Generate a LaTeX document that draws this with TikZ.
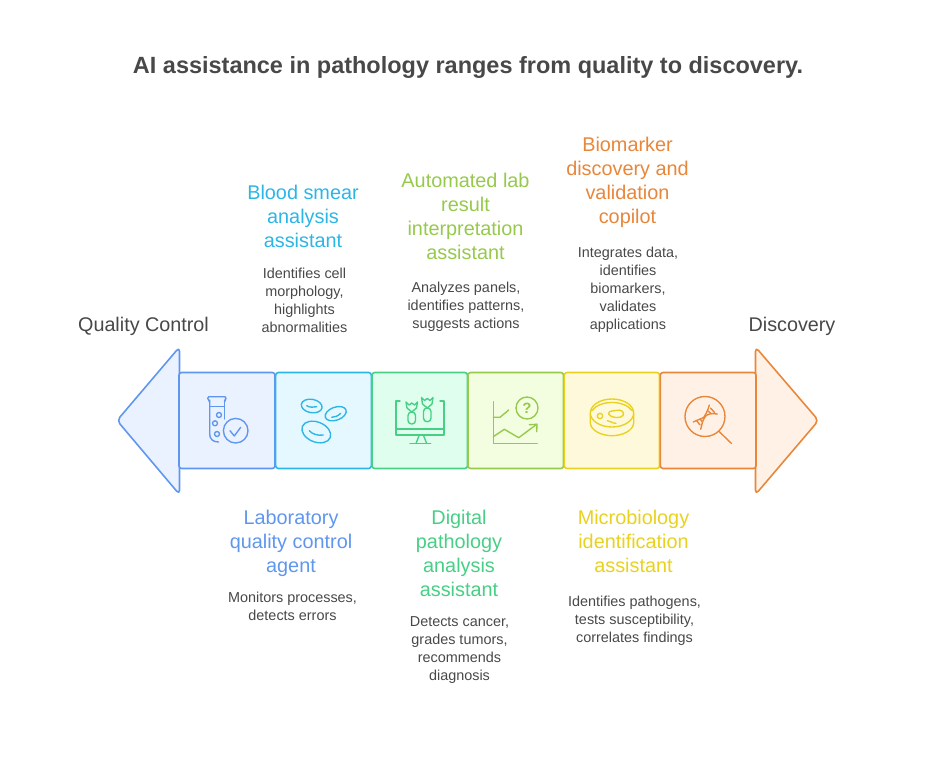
\documentclass[tikz,border=0pt]{standalone}
\usepackage{fontspec}
\setmainfont{Liberation Sans}
\definecolor{StepBlue}{HTML}{5F96EE}
\definecolor{StepBlueFill}{HTML}{EBF2FF}
\definecolor{StepCyan}{HTML}{2CB6E6}
\definecolor{StepCyanFill}{HTML}{E6F8FF}
\definecolor{StepGreen}{HTML}{47CF85}
\definecolor{StepGreenFill}{HTML}{E0FEEE}
\definecolor{StepLime}{HTML}{96C94C}
\definecolor{StepLimeFill}{HTML}{F2FEDF}
\definecolor{StepYellow}{HTML}{E8D21F}
\definecolor{StepYellowFill}{HTML}{FFF9DB}
\definecolor{StepOrange}{HTML}{E8863A}
\definecolor{StepOrangeFill}{HTML}{FFF1E5}
\definecolor{TextDark}{HTML}{484848}

\begin{document}
\begin{tikzpicture}[
  x=0.02cm,y=-0.02cm,
  cell/.style={line width=0.9pt,rounded corners=1.5pt,line join=round},
  bigtip/.style={line width=0.9pt,rounded corners=2.5pt,line join=round},
  icon/.style={line width=0.78pt,line cap=round,line join=round},
  headline/.style={font=\fontsize{13.36}{16}\selectfont\bfseries,text=TextDark},
  endlabel/.style={font=\fontsize{11.25}{13.65}\selectfont,text=TextDark},
  steptitle/.style={font=\fontsize{11.3}{13.65}\selectfont,align=center},
  stepnote/.style={font=\fontsize{8.2}{10.24}\selectfont,align=center,text=TextDark}
]
  \useasboundingbox (0,0) rectangle (936,757);

  \node[headline] (title) at (468,67) {AI assistance in pathology ranges from quality to discovery.};

  % End arrows of the double-headed band.
  \draw[bigtip,draw=StepBlue,fill=StepBlueFill] (179.5,347) -- (117,420.5) -- (179.5,494.5) -- cycle;
  \draw[bigtip,draw=StepOrange,fill=StepOrangeFill] (755.5,347) -- (818.5,420.5) -- (755.5,494.5) -- cycle;

  % Six cells of the band.
  \foreach \xa/\xb/\hue in {179/275/Blue,275.7/371.3/Cyan,372/467.5/Green,468/563.5/Lime,564.3/659.5/Yellow,660.3/756/Orange}
    \draw[cell,draw=Step\hue,fill=Step\hue Fill] (\xa,372.5) rectangle (\xb,468.5);

  % Test tube with check mark.
  \begin{scope}[icon,draw=StepBlue]
    \draw[rounded corners=1pt] (209.5,402) -- (207,396.7) -- (226.7,396.7) -- (224.5,402);
    \draw (209.7,400) -- (209.7,434) .. controls (209.7,439) and (213,442) .. (218.5,442);
    \draw (224.5,400) -- (224.5,419);
    \draw (209.7,406.7) -- (224.5,406.7);
    \draw (219,415) circle (2.5);
    \draw (215,423.3) circle (2.5);
    \draw (217,434) circle (2.5);
    \draw (235.7,430.7) circle (12.3);
    \draw (230,430.7) -- (234.3,436) -- (240.7,427.3);
  \end{scope}

  % Blood cells.
  \begin{scope}[icon,draw=StepCyan]
    \draw[rotate around={-10:(311.7,406)}] (311.7,406) ellipse (10.5 and 6.7);
    \draw (306.7,405.7) .. controls (309.5,407.5) and (313.5,407.5) .. (316.7,406.7);
    \draw[rotate around={20:(335.7,413.7)}] (335.7,413.7) ellipse (11 and 6.5);
    \draw (331.7,417.3) .. controls (335,417.3) and (338,416) .. (340.7,413.3);
    \draw[rotate around={-22:(316.3,432)}] (316.3,432) ellipse (15 and 10);
    \draw (309.3,430.7) .. controls (312,434) and (318,436) .. (323.3,435);
  \end{scope}

  % Monitor with two vials.
  \begin{scope}[icon,draw=StepGreen]
    \draw (400,401) -- (396,401) -- (396,435) -- (444,435) -- (444,401) -- (440,401);
    \draw (396,429) -- (444,429);
    \draw (419.3,435) -- (416,443.5);
    \draw (423.3,435) -- (426.7,443.5);
    \draw (410,443.5) -- (430.7,443.5);
    \draw[rounded corners=2pt] (408,412) -- (408,424) -- (415.5,424) -- (415.5,412) -- cycle;
    \draw (406,402) -- (409,405) -- (411.7,403) -- (414.5,405) -- (417.5,402) -- (416.5,408) -- (411.7,412) -- (407,408) -- cycle;
    \draw[rounded corners=2pt] (423.5,408) -- (423.5,421.7) -- (431,421.7) -- (431,408) -- cycle;
    \draw (421.5,397.5) -- (424.5,400.5) -- (427.3,398.5) -- (430,400.5) -- (433,397.5) -- (432,404) -- (427.3,408) -- (422.5,404) -- cycle;
  \end{scope}

  % Chart with question mark.
  \begin{scope}[icon,draw=StepLime]
    \draw (493.3,401.7) -- (493.3,443.7) -- (537.3,443.7);
    \draw (493.3,417.3) -- (500,417.3) -- (508.7,410);
    \draw (493.3,436.7) -- (504.3,429.3) -- (518.7,437.7) -- (536.7,424.3);
    \draw (529.3,424.7) -- (537,424.3) -- (536.7,431.7);
    \draw (527,408) circle (11);
    \node[font=\fontsize{8.5}{9}\selectfont\bfseries,text=StepLime] (quest) at (527,408) {?};
  \end{scope}

  % Petri dish.
  \begin{scope}[icon,draw=StepYellow]
    \draw (612,413) ellipse (21.7 and 14);
    \draw (591.5,411) .. controls (596,405) and (604,402.5) .. (612,402.5) .. controls (620,402.5) and (628,405) .. (632.5,411);
    \draw (590.3,414) -- (590.3,423) .. controls (591,431) and (602,435.7) .. (612,435.7) .. controls (622,435.7) and (633,431) .. (633.7,423) -- (633.7,414);
    \draw (600,416) circle (2.7);
    \draw (608.5,414) .. controls (609,409.5) and (613,412) .. (616,410.5) .. controls (621,409) and (625,412) .. (623,415.5) .. controls (621,418.5) and (611,418.5) .. (608.5,414) -- cycle;
    \draw (607.3,420.7) .. controls (610,420.5) and (612,423.5) .. (616,423.3);
  \end{scope}

  % Magnifier over a DNA strand.
  \begin{scope}[icon,draw=StepOrange]
    \draw (705,416.5) circle (20);
    \draw (719.3,431.7) -- (731.5,443.5);
    \draw (709.3,405) .. controls (707.5,412) and (705,415) .. (704,417) .. controls (702,419) and (698,419.5) .. (693.3,422);
    \draw (717.3,414) .. controls (711,413) and (707,414) .. (705,417) .. controls (702,421) and (702,425) .. (700.7,429.3);
    \draw (710.5,408) -- (714.5,412.5);
    \draw (708,411) -- (711,413.5);
    \draw (696.5,420.5) -- (700,425);
    \draw (700,419) -- (702.5,422);
  \end{scope}

  % Labels above and below the band.
  \node[endlabel] (qualitylabel) at (143.5,326) {Quality Control};
  \node[endlabel] (discoverylabel) at (792,326) {Discovery};

  \node[steptitle,text=StepCyan] (smearhead) at (303,216.5) {Blood smear\\analysis\\assistant};
  \node[stepnote] (smearnote) at (304.5,300.5) {Identifies cell\\morphology,\\highlights\\abnormalities};
  \node[steptitle,text=StepLime] (labhead) at (465.5,216.5) {Automated lab\\result\\interpretation\\assistant};
  \node[stepnote] (labnote) at (466,307.2) {Analyzes panels,\\identifies patterns,\\suggests actions};
  \node[steptitle,text=StepOrange] (markerhead) at (627.5,182.5) {Biomarker\\discovery and\\validation\\copilot};
  \node[stepnote] (markernote) at (628,289.5) {Integrates data,\\identifies\\biomarkers,\\validates\\applications};

  \node[steptitle,text=StepBlue] (qualityhead) at (291,543.5) {Laboratory\\quality control\\agent};
  \node[stepnote] (qualitynote) at (292.5,606.5) {Monitors processes,\\detects errors};
  \node[steptitle,text=StepGreen] (digitalhead) at (459,553.5) {Digital\\pathology\\analysis\\assistant};
  \node[stepnote] (digitalnote) at (459.5,650.5) {Detects cancer,\\grades tumors,\\recommends\\diagnosis};
  \node[steptitle,text=StepYellow] (microhead) at (633.5,541.5) {Microbiology\\identification\\assistant};
  \node[stepnote] (micronote) at (634.5,620.5) {Identifies pathogens,\\tests susceptibility,\\correlates findings};
\end{tikzpicture}
\end{document}
